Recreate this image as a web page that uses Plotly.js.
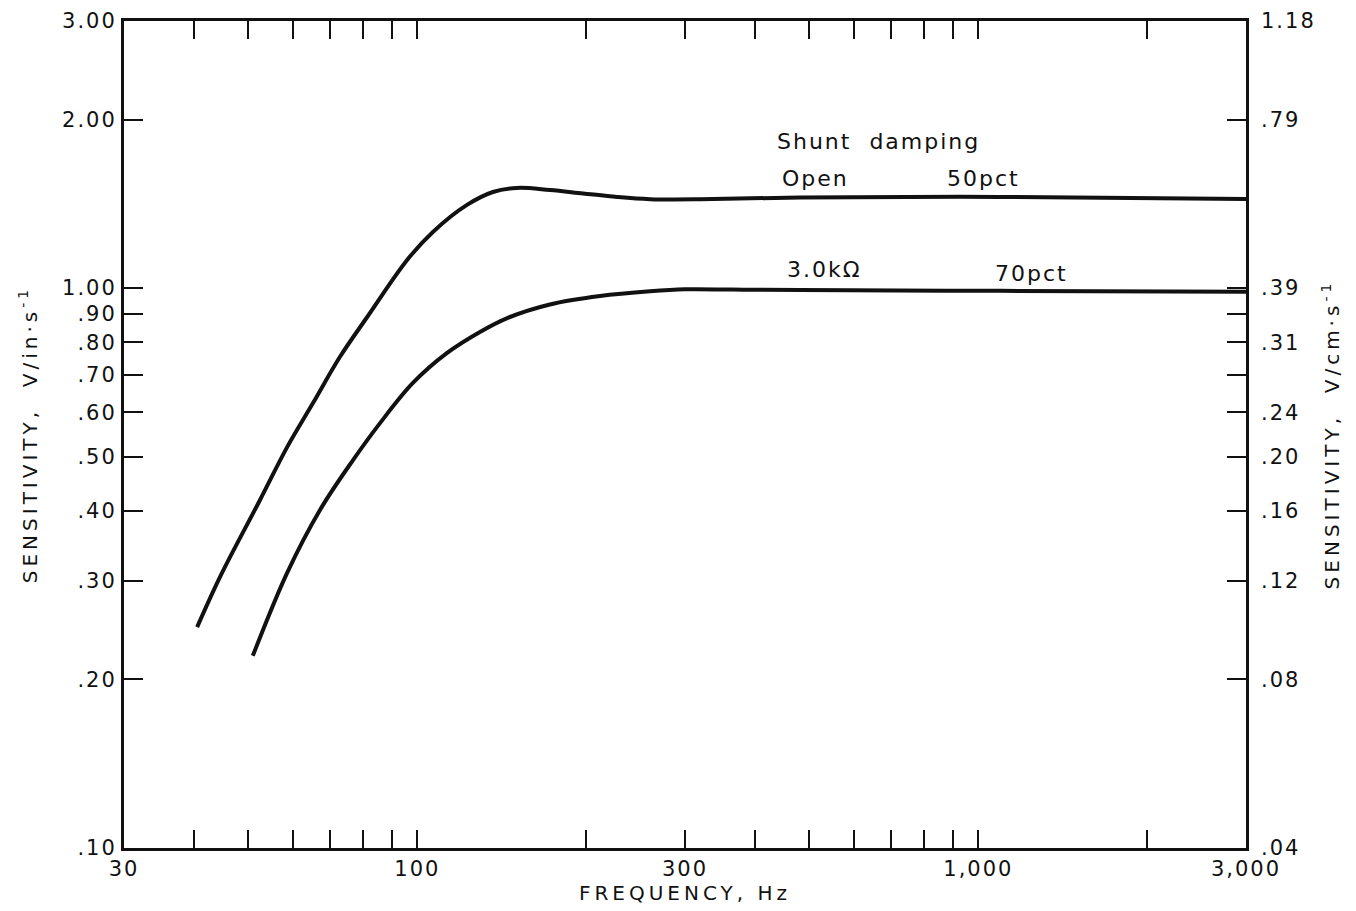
<!DOCTYPE html>
<html>
<head>
<meta charset="utf-8">
<script src="https://cdn.plot.ly/plotly-3.0.1.min.js"></script>
<style>
  body { margin: 0; background: #fff; }
  #chart { width: 1356px; height: 911px; }
  .xtitle, .ytitle, .y2title { letter-spacing: 4px; }
  .annotation-text { letter-spacing: 2px; }
  .ytick text, .y2tick text, .xtick text { letter-spacing: 2px; }
</style>
</head>
<body>
<div id="chart"></div>
<script>
// Frequency (Hz) and sensitivity (V/in·s⁻¹)
const freqOpen = [40.5, 44.5, 52.4, 58.6, 65.2, 72.8, 81.4, 95.9, 106.6, 122.6, 136.4, 150.5, 172.3, 197.4, 227, 260, 319, 481, 1093, 3000];
const sensOpen = [0.248, 0.305, 0.418, 0.520, 0.624, 0.754, 0.888, 1.123, 1.26, 1.408, 1.485, 1.51, 1.497, 1.476, 1.455, 1.442, 1.441, 1.452, 1.455, 1.443];

const freq3k = [50.9, 58.6, 67.1, 76.8, 85.8, 98.2, 113, 129.3, 145, 172.3, 211.7, 260, 300, 365, 481, 1093, 3000];
const sens3k = [0.2204, 0.31, 0.402, 0.493, 0.574, 0.677, 0.766, 0.835, 0.885, 0.935, 0.968, 0.987, 0.995, 0.994, 0.992, 0.989, 0.985];

// Axis ticks
const xTickVals = [30, 40, 50, 60, 70, 80, 90, 100, 200, 300, 400, 500, 600, 700, 800, 900, 1000, 2000, 3000];
const xTickText = ['30', '', '', '', '', '', '', '100', '', '300', '', '', '', '', '', '', '1,000', '', '3,000'];
const yTickVals = [0.1, 0.2, 0.3, 0.4, 0.5, 0.6, 0.7, 0.8, 0.9, 1.0, 2.0, 3.0];
const yTickText = ['.10', '.20', '.30', '.40', '.50', '.60', '.70', '.80', '.90', '1.00', '2.00', '3.00'];
const y2TickText = ['.04', '.08', '.12', '.16', '.20', '.24', '', '.31', '', '.39', '.79', '1.18'];

const FONT = 'DejaVu Sans, Liberation Sans, sans-serif';
const lineStyle = { color: '#111', width: 4, shape: 'spline', smoothing: 1 };

const traces = [
  { x: freqOpen, y: sensOpen, mode: 'lines', line: lineStyle, name: 'Open (50 pct)', hoverinfo: 'skip' },
  { x: freq3k, y: sens3k, mode: 'lines', line: lineStyle, name: '3.0 kΩ (70 pct)', hoverinfo: 'skip' },
  { x: freq3k, y: sens3k, mode: 'lines', line: { width: 0 }, opacity: 0, yaxis: 'y2', showlegend: false, hoverinfo: 'skip' }
];

const yRange = [Math.log10(0.1), Math.log10(3.0)];

const layout = {
  width: 1356,
  height: 911,
  margin: { l: 124, r: 110, t: 21, b: 63 },
  paper_bgcolor: '#fff',
  plot_bgcolor: '#fff',
  showlegend: false,
  font: { family: FONT, color: '#111', size: 21 },
  xaxis: {
    type: 'log',
    range: [Math.log10(30), Math.log10(3000)],
    tickmode: 'array',
    tickvals: xTickVals,
    ticktext: xTickText,
    ticks: 'inside',
    ticklen: 18,
    tickwidth: 2,
    tickcolor: '#111',
    showline: true,
    linewidth: 3,
    linecolor: '#111',
    mirror: 'ticks',
    showgrid: false,
    zeroline: false,
    tickfont: { family: FONT, size: 21, color: '#111' },
    title: { text: 'FREQUENCY, Hz', font: { family: FONT, size: 20, color: '#111' }, standoff: 6 }
  },
  yaxis: {
    type: 'log',
    range: yRange,
    tickmode: 'array',
    tickvals: yTickVals,
    ticktext: yTickText,
    ticks: 'inside',
    ticklen: 19,
    tickwidth: 2,
    tickcolor: '#111',
    showline: true,
    linewidth: 3,
    linecolor: '#111',
    mirror: 'ticks',
    showgrid: false,
    zeroline: false,
    tickfont: { family: FONT, size: 21, color: '#111' },
    title: { text: 'SENSITIVITY,  V/in·s<sup>-1</sup>', font: { family: FONT, size: 20, color: '#111' }, standoff: 20 }
  },
  yaxis2: {
    type: 'log',
    range: yRange,
    overlaying: 'y',
    side: 'right',
    anchor: 'x',
    tickmode: 'array',
    tickvals: yTickVals,
    ticktext: y2TickText,
    ticks: '',
    ticklabelstandoff: 14,
    showline: false,
    showgrid: false,
    zeroline: false,
    tickfont: { family: FONT, size: 21, color: '#111' },
    title: { text: 'SENSITIVITY,  V/cm·s<sup>-1</sup>', font: { family: FONT, size: 20, color: '#111' }, standoff: 10 }
  },
  annotations: [
    { text: 'Shunt  damping', xref: 'paper', yref: 'paper', x: 0.580, y: 0.854, xanchor: 'left', yanchor: 'middle', showarrow: false, font: { family: FONT, size: 22, color: '#111' } },
    { text: 'Open', xref: 'paper', yref: 'paper', x: 0.585, y: 0.810, xanchor: 'left', yanchor: 'middle', showarrow: false, font: { family: FONT, size: 22, color: '#111' } },
    { text: '50pct', xref: 'paper', yref: 'paper', x: 0.732, y: 0.810, xanchor: 'left', yanchor: 'middle', showarrow: false, font: { family: FONT, size: 22, color: '#111' } },
    { text: '3.0kΩ', xref: 'paper', yref: 'paper', x: 0.589, y: 0.699, xanchor: 'left', yanchor: 'middle', showarrow: false, font: { family: FONT, size: 22, color: '#111' } },
    { text: '70pct', xref: 'paper', yref: 'paper', x: 0.7745, y: 0.695, xanchor: 'left', yanchor: 'middle', showarrow: false, font: { family: FONT, size: 22, color: '#111' } }
  ]
};

Plotly.newPlot('chart', traces, layout, { displayModeBar: false, staticPlot: true });
</script>
</body>
</html>
